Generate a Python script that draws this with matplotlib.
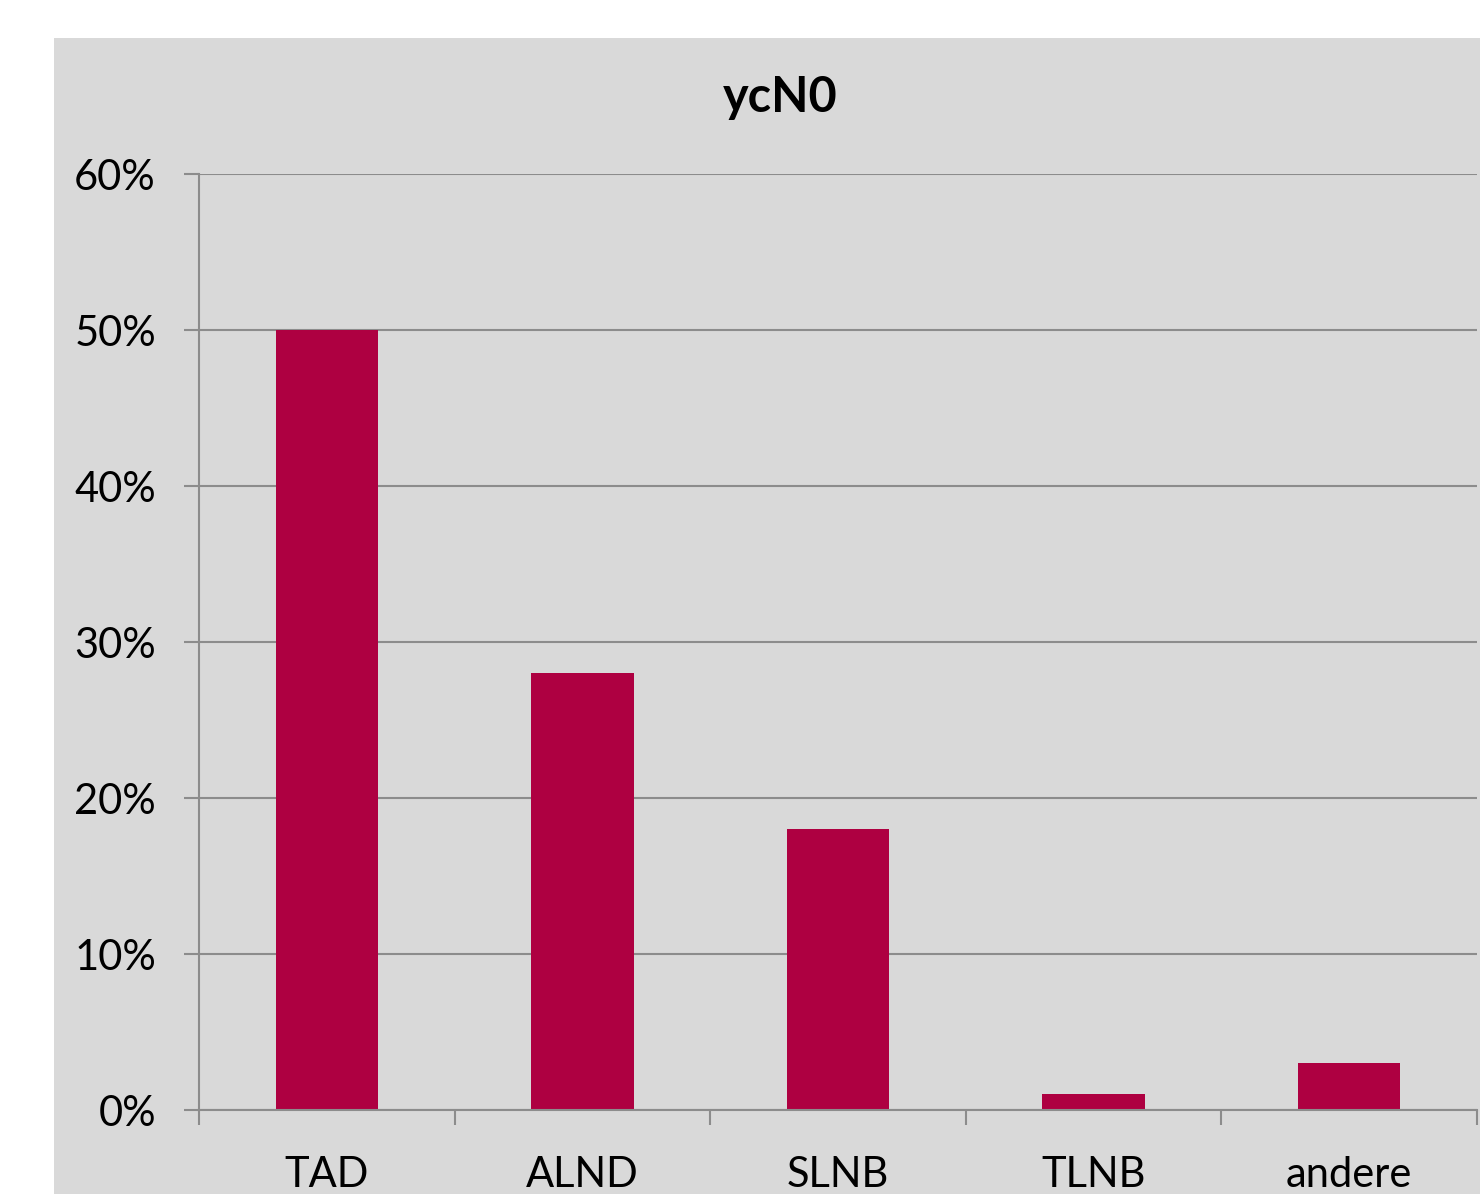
import matplotlib
matplotlib.use("Agg")
import matplotlib.pyplot as plt
from matplotlib.patches import Rectangle
from matplotlib.ticker import FixedLocator, FuncFormatter

categories = ["TAD", "ALND", "SLNB", "TLNB", "andere"]
values = [50, 28, 18, 1, 3]
title = "ycN0"

plt.rcParams['font.family'] = ['Lato', 'DejaVu Sans']

fig = plt.figure(figsize=(14.8, 11.94), dpi=100)
fig.patch.set_facecolor('white')
panel = Rectangle((54/1480, 0), 1 - 54/1480, (1194-38)/1194, transform=fig.transFigure,
                  facecolor='#d9d9d9', edgecolor='none', zorder=-10)
fig.patches.append(panel)

ax = fig.add_axes([199/1480, 84/1194, (1477-199)/1480, (1110-174)/1194])
ax.set_zorder(5)
ax.set_facecolor('#d9d9d9')
x = list(range(len(categories)))
ax.bar(x, values, width=0.4, color='#ae0041', zorder=3)
ax.set_xlim(-0.5, len(categories) - 0.5)
ax.set_ylim(0, 60)
ax.set_yticks(range(0, 61, 10))
ax.yaxis.set_major_formatter(FuncFormatter(lambda v, p: f"{int(v)}%"))
ax.set_xticks(x)
ax.set_xticklabels(categories)
ax.xaxis.set_minor_locator(FixedLocator([i - 0.5 for i in range(len(categories) + 1)]))
ax.tick_params(axis='x', which='major', length=0, pad=33, labelsize=30)
ax.tick_params(axis='x', which='minor', length=11, width=1.5, color='#8c8c8c')
ax.tick_params(axis='y', length=11, width=1.5, color='#8c8c8c', labelsize=30, pad=20)
ax.grid(axis='y', color='#8c8c8c', linewidth=1.5, zorder=1)
for s in ['top', 'right']:
    ax.spines[s].set_visible(False)
for s in ['left', 'bottom']:
    ax.spines[s].set_color('#8c8c8c')
    ax.spines[s].set_linewidth(1.5)
ax.spines['bottom'].set_zorder(4)

fig.text(780/1480, (1194-97)/1194, title, ha='center', va='center',
         fontsize=35, fontweight='bold')

fig.savefig("out.png", dpi=100, facecolor='white')
